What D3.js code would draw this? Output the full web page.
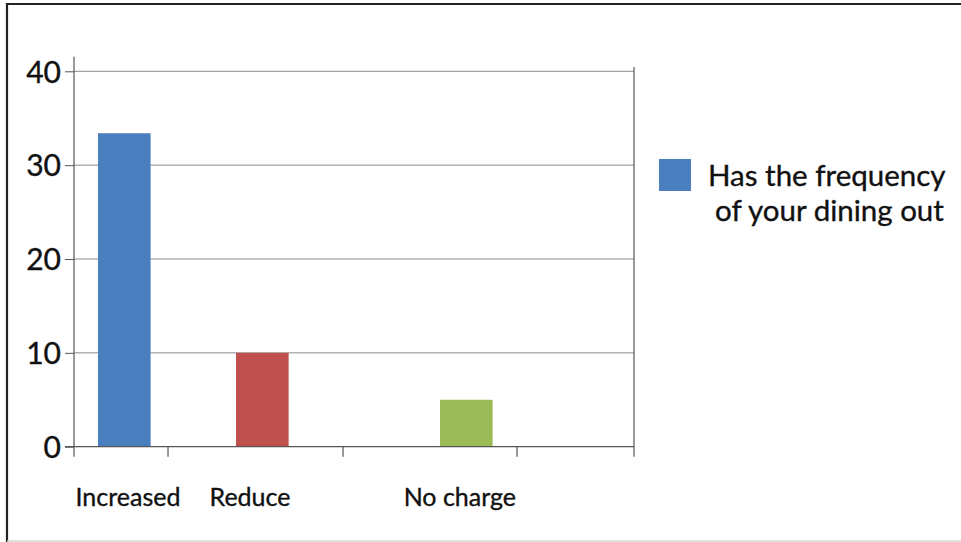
<!DOCTYPE html>
<html>
<head>
<meta charset="utf-8">
<script src="https://cdn.jsdelivr.net/npm/d3@7/dist/d3.min.js"></script>
<style>
  html, body { margin: 0; padding: 0; background: #fff; }
  svg { display: block; }
  text { font-family: Lato, "Open Sans", sans-serif; fill: #111; stroke: #111; stroke-width: 0.35px; }
</style>
</head>
<body>
<script>
// Survey answers: has the frequency of your dining out changed?
const categories = ["Increased", "Reduce", "No charge"];
const values = [33.4, 10, 5];
const barColors = ["#4a7ebf", "#c0504d", "#9bbb59"];
const yTicks = [0, 10, 20, 30, 40];
const legendLines = ["Has the frequency", "of your dining out"];

const W = 961, H = 542;
const svg = d3.select("body").append("svg").attr("width", W).attr("height", H);

// frame around the figure
svg.append("line").attr("x1", 6).attr("x2", W).attr("y1", 4).attr("y2", 4)
  .attr("stroke", "#222").attr("stroke-width", 2.2);
svg.append("line").attr("x1", 7).attr("x2", 7).attr("y1", 3).attr("y2", 542)
  .attr("stroke", "#222").attr("stroke-width", 2.2);
svg.append("line").attr("x1", 7).attr("x2", W).attr("y1", 541).attr("y2", 541)
  .attr("stroke", "#d4d4d4").attr("stroke-width", 1.5);

// plot area
const plot = { left: 74, right: 634, top: 71.3, bottom: 446.7 };
const y = d3.scaleLinear().domain([0, 40]).range([plot.bottom, plot.top]);
const xFrac = d3.scaleLinear().domain([0, 1]).range([plot.left, plot.right]);

// category slots along the axis (fractions of the plot width)
const barSlot = d3.scaleOrdinal().domain(categories).range([0.0898, 0.3363, 0.7005]);
const labelSlot = d3.scaleOrdinal().domain(categories).range([0.0964, 0.3143, 0.689]);
const tickFracs = [0, 0.1679, 0.4804, 0.7911, 1];
const barWidth = xFrac(0.094) - xFrac(0);

// horizontal gridlines
svg.append("g").selectAll("line").data(yTicks.filter(t => t > 0)).join("line")
  .attr("x1", plot.left).attr("x2", plot.right)
  .attr("y1", d => y(d)).attr("y2", d => y(d))
  .attr("stroke", "#8a8a8a").attr("stroke-width", 1);

// y axis with outward ticks
const yAxis = d3.axisLeft(y).tickValues(yTicks).tickSize(9).tickPadding(4).tickFormat(d3.format("d"));
const gy = svg.append("g").attr("transform", `translate(${plot.left},0)`).call(yAxis);
gy.select(".domain").remove();
gy.selectAll(".tick line").attr("stroke", "#555").attr("stroke-width", 1);
gy.selectAll(".tick text").attr("font-size", 30).attr("fill", "#111")
  .attr("font-family", "Lato, 'Open Sans', sans-serif").attr("dy", "0.36em");
svg.append("line").attr("x1", plot.left).attr("x2", plot.left)
  .attr("y1", 56.7).attr("y2", 456.7).attr("stroke", "#555").attr("stroke-width", 1.2);
svg.append("line").attr("x1", plot.right).attr("x2", plot.right)
  .attr("y1", 67).attr("y2", 456.7).attr("stroke", "#555").attr("stroke-width", 1.2);

// bars
svg.append("g").selectAll("rect").data(categories).join("rect")
  .attr("x", d => xFrac(barSlot(d)) - barWidth / 2)
  .attr("width", barWidth)
  .attr("y", (d, i) => y(values[i]))
  .attr("height", (d, i) => y(0) - y(values[i]))
  .attr("fill", (d, i) => barColors[i]);

// baseline and category ticks
svg.append("line").attr("x1", plot.left - 9).attr("x2", plot.right)
  .attr("y1", y(0)).attr("y2", y(0)).attr("stroke", "#555").attr("stroke-width", 1.2);
svg.append("g").selectAll("line").data(tickFracs.slice(1, -1)).join("line")
  .attr("x1", d => xFrac(d)).attr("x2", d => xFrac(d))
  .attr("y1", y(0)).attr("y2", y(0) + 10)
  .attr("stroke", "#555").attr("stroke-width", 1.2);

// category labels
svg.append("g").selectAll("text").data(categories).join("text")
  .attr("x", d => xFrac(labelSlot(d)))
  .attr("y", 505.7)
  .attr("text-anchor", "middle")
  .attr("font-size", 25)
  .text(d => d);

// legend
svg.append("rect").attr("x", 659).attr("y", 159).attr("width", 32).attr("height", 32)
  .attr("fill", barColors[0]);
svg.append("text").attr("x", 708).attr("y", 186).attr("font-size", 29.5).text(legendLines[0]);
svg.append("text").attr("x", 715).attr("y", 221).attr("font-size", 29.5).text(legendLines[1]);
</script>
</body>
</html>
